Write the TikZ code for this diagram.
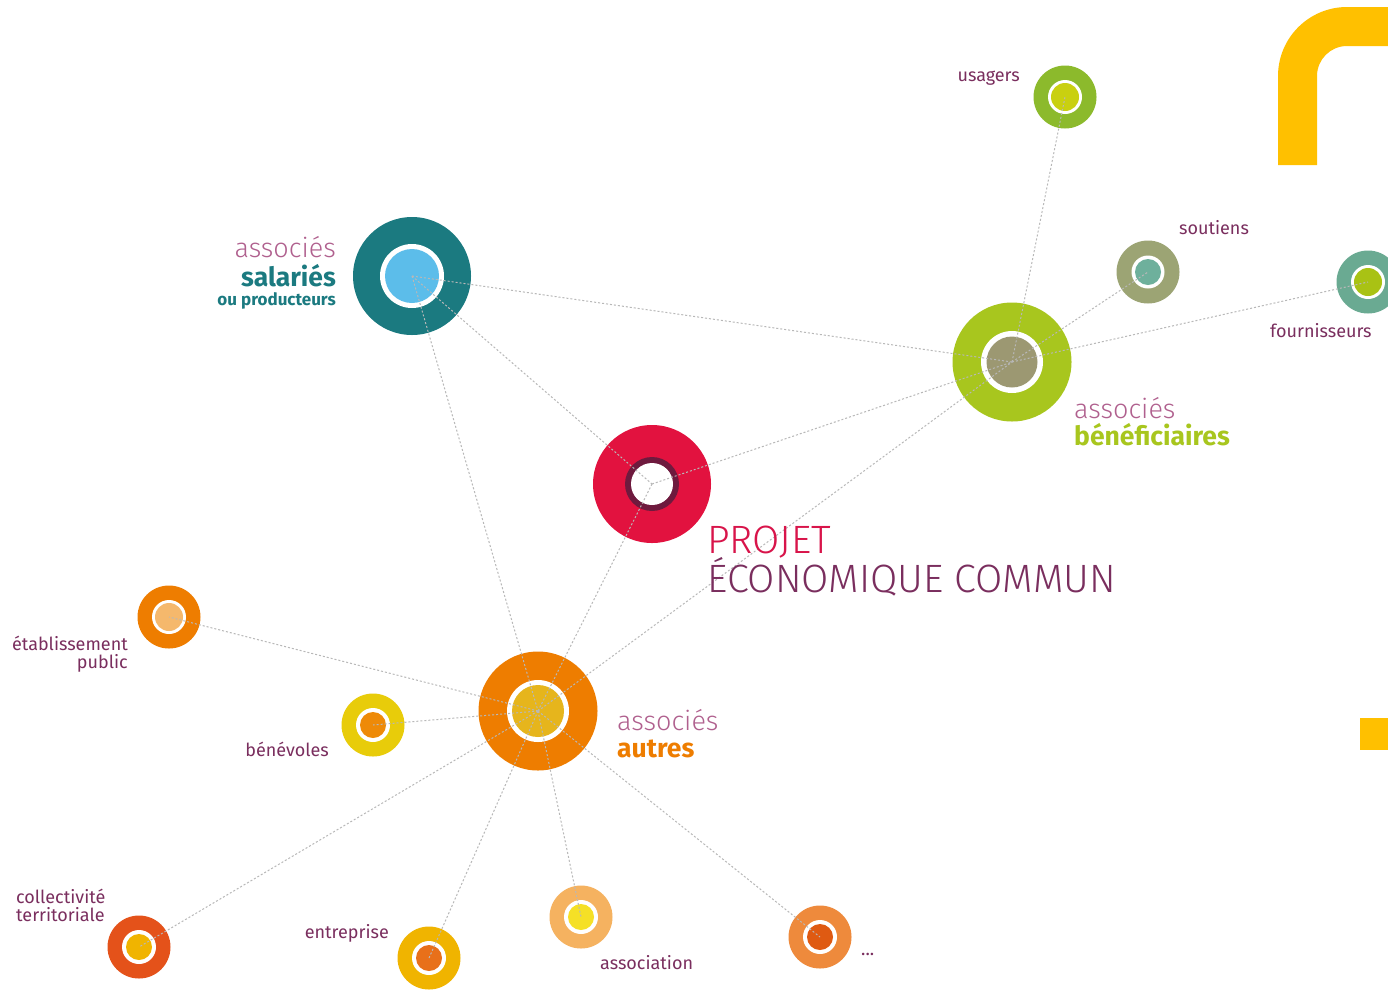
\documentclass[tikz,border=0pt]{standalone}
\usepackage{fontspec}
\setmainfont{Fira Sans}
\newfontfamily\lightf{Fira Sans Light}
\definecolor{teal1}{HTML}{1B7A80}
\definecolor{skyb}{HTML}{5CBDEA}
\definecolor{red1}{HTML}{E2123F}
\definecolor{plum}{HTML}{6E1A3E}
\definecolor{lime1}{HTML}{A8C61E}
\definecolor{olive1}{HTML}{9C9872}
\definecolor{green1}{HTML}{8CBA2C}
\definecolor{yg}{HTML}{C9D010}
\definecolor{sage}{HTML}{9CA474}
\definecolor{tealg}{HTML}{6EB09C}
\definecolor{tealg2}{HTML}{6AAA92}
\definecolor{lime2}{HTML}{A9C214}
\definecolor{orange1}{HTML}{EE7D00}
\definecolor{gold1}{HTML}{E6B51C}
\definecolor{lorange}{HTML}{F5B86C}
\definecolor{yell1}{HTML}{E8CC0A}
\definecolor{orange2}{HTML}{EE8A08}
\definecolor{redor}{HTML}{E4521A}
\definecolor{gold2}{HTML}{F0B400}
\definecolor{orange3}{HTML}{E8701A}
\definecolor{peach}{HTML}{F5B260}
\definecolor{yell2}{HTML}{F5E026}
\definecolor{orange4}{HTML}{EE8A3C}
\definecolor{redor2}{HTML}{DF5A12}
\definecolor{mauve}{HTML}{B0608E}
\definecolor{dmauve}{HTML}{7A2E5E}
\definecolor{cornery}{HTML}{FFC000}
\definecolor{redtxt}{HTML}{D8144A}
\definecolor{linec}{HTML}{B8B8B8}
\tikzset{
  disc/.style={circle,inner sep=0pt,minimum size=#1},
  link/.style={draw=linec,line width=1pt,dash pattern=on 2pt off 2pt},
  smalllbl/.style={text=dmauve,font=\fontsize{18}{19}\selectfont,inner sep=0pt},
  biglight/.style={text=mauve,font=\lightf\fontsize{27}{29}\selectfont,inner sep=0pt},
  bigbold/.style={font=\bfseries\fontsize{26.5}{28}\selectfont,inner sep=0pt},
}
% \ringnode{name}{pos}{outer diam}{outer col}{white diam}{inner diam}{inner col}
\newcommand{\ringnode}[7]{%
  \node[disc=#3,fill=#4] (#1) at (#2) {};
  \fill[white] (#1.center) circle (#5/2);
  \fill[#7] (#1.center) circle (#6/2);
}
\begin{document}
\begin{tikzpicture}[x=1pt,y=-1pt]
\useasboundingbox (0,0) rectangle (1388,989);
\fill[white] (0,0) rectangle (1388,989);
% yellow corner shape
\fill[cornery] (1278,165) -- (1278,76) arc[start angle=180,end angle=270,radius=69] -- (1388,7) -- (1388,46) -- (1347,46) arc[start angle=270,end angle=180,radius=30] -- (1317,165) -- cycle;
\fill[cornery] (1360,718) rectangle (1388,750);

% nodes
\ringnode{sal}{412,276}{118}{teal1}{64}{54}{skyb}
\node[disc=118,fill=red1] (pro) at (652,484) {};
\fill[plum] (pro.center) circle (27);
\fill[white] (pro.center) circle (21);
\ringnode{ben}{1012,362}{119}{lime1}{62}{51}{olive1}
\ringnode{usa}{1065,97}{63}{green1}{34}{28}{yg}
\ringnode{sou}{1148,272}{63}{sage}{33}{26}{tealg}
\ringnode{fou}{1368,282}{63}{tealg2}{34}{28}{lime2}
\ringnode{aut}{538,711}{119}{orange1}{62}{52}{gold1}
\ringnode{eta}{169,617}{63}{orange1}{34}{28}{lorange}
\ringnode{bnv}{373,725}{63}{yell1}{34}{26}{orange2}
\ringnode{col}{139,947}{63}{redor}{34}{26}{gold2}
\ringnode{ent}{429,958}{63}{gold2}{34}{26}{orange3}
\ringnode{ass}{581,917}{63}{peach}{34}{26}{yell2}
\ringnode{etc}{820,937}{63}{orange4}{34}{26}{redor2}

% links
\foreach \a/\b in {sal/ben,sal/pro,sal/aut,pro/ben,pro/aut,aut/ben,ben/usa,ben/sou,ben/fou,aut/eta,aut/bnv,aut/col,aut/ent,aut/ass,aut/etc}
  \draw[link] (\a.center) -- (\b.center);

% big labels
\node[biglight,anchor=base east] (l1) at (336,257) {associés};
\node[bigbold,text=teal1,anchor=base east] (l2) at (336,286) {salariés};
\node[text=teal1,font=\bfseries\fontsize{17}{18}\selectfont,inner sep=0pt,anchor=base east] (l3) at (336,305) {ou producteurs};

\node[biglight,anchor=base west] (b1) at (1074,418) {associés};
\node[bigbold,text=lime1,anchor=base west] (b2) at (1074,445) {bénéficiaires};

\node[biglight,anchor=base west] (a1) at (617,730) {associés};
\node[bigbold,text=orange1,anchor=base west] (a2) at (617,757) {autres};

\node[text=redtxt,font=\lightf\fontsize{39.5}{41}\selectfont,inner sep=0pt,anchor=base west] (p1) at (707,553) {PROJET};
\node[text=dmauve,font=\lightf\fontsize{39.5}{41}\selectfont,inner sep=0pt,anchor=base west] (p2) at (707,592) {ÉCONOMIQUE COMMUN};

% small labels
\node[smalllbl,anchor=base east] at (1020,81) {usagers};
\node[smalllbl,anchor=base west] at (1179,234) {soutiens};
\node[smalllbl,anchor=base west] at (1270,337) {fournisseurs};
\node[smalllbl,anchor=base east] at (128,650) {établissement};
\node[smalllbl,anchor=base east] at (128,668) {public};
\node[smalllbl,anchor=base east] at (329,756) {bénévoles};
\node[smalllbl,anchor=base west] at (16,903) {collectivité};
\node[smalllbl,anchor=base west] at (16,921) {territoriale};
\node[smalllbl,anchor=base east] at (389,938) {entreprise};
\node[smalllbl,anchor=base west] at (600,969) {association};
\node[smalllbl,anchor=base west] at (861,955) {...};
\end{tikzpicture}
\end{document}
